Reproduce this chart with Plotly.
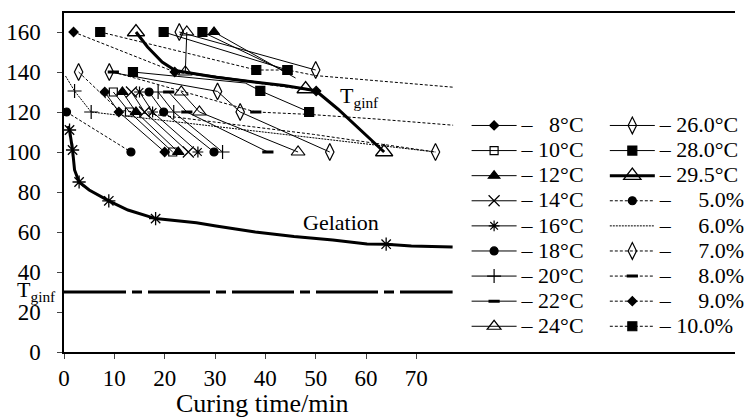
import plotly.graph_objects as go

# ---------------- data ----------------
t_rows = [130, 120, 100]
t8_x = [8.1, 10.9, 20.0]
t10_x = [9.8, 13.0, 21.6]
t12_x = [11.6, 14.3, 22.7]
t14_x = [13.4, 16.0, 24.7]
t16_x = [15.0, 17.6, 26.6]
t18_x = [16.9, 19.8, 29.8]
t20_x = [18.7, 21.8, 31.5]
t22_x = [20.8, 24.4, 40.5]
t24_x = [23.3, 26.9, 46.5]
t26_x = [9.0, 30.5, 35.0, 52.8]
t26_y = [140, 130.3, 120, 100]
t28_x = [13.7, 36.0, 39.0, 48.7]
t28_y = [140, 134.5, 130.6, 120]
t28_mark = [1, 0, 1, 1]
# upper segments (160 row)
up_a_x = [22.9, 50.0]; up_a_y = [160, 141]
up_b_x = [19.8, 44.4]; up_b_y = [160, 141]
up_c_x = [29.8, 46.0]; up_c_y = [160, 137]
up_d_x = [24.4, 24.1, 40.0]; up_d_y = [160, 140, 134.5]
up_e_x = [27.5, 45.0]; up_e_y = [160, 139]
# 29.5 degC curve (thick)
t295_x = [14.3, 16.6, 19.5, 22.1, 30.2, 36.0, 43.7, 48.0, 50.1, 54.4, 58.3, 63.6]
t295_y = [160, 152.5, 145, 140.7, 137.4, 135.7, 133.2, 131.5, 130.5, 121.5, 112.4, 100]
t295_mark = [1, 0, 0, 0, 0, 0, 0, 1, 0, 0, 0, 1]
# percentage series (dashed)
p5_x = [0.5, 13.3]; p5_y = [120, 100]
p5_mark = [1, 1]
p6_x = [0.3, 2.1, 5.4, 37.9, 73.8]; p6_y = [138, 130.5, 120, 110.6, 100]
p6_mark = [0, 1, 1, 0, 0]
p7_x = [2.9, 10.8, 49.6, 73.8]; p7_y = [140, 121, 108.8, 100]
p7_mark = [1, 0, 0, 1]
p8_x = [9.8, 38.1, 48.7, 62.0, 77.3]; p8_y = [140, 120, 118.8, 116.5, 113.4]
p8_mark = [1, 1, 0, 0, 0]
p9_x = [1.9, 22.0, 50.1]; p9_y = [160, 140, 130.5]
p9_mark = [1, 1, 1]
p10_x = [7.2, 38.2, 44.4, 50.0, 77.3]; p10_y = [160, 141, 141, 138.2, 132.4]
p10_mark = [1, 1, 1, 0, 0]
# gelation curve
gel_x = [0.8, 1.1, 1.7, 2.1, 3.0, 5.0, 8.9, 12.7, 18.2, 26.3, 30.2, 38.0, 45.7, 53.4, 60.2, 64.0, 69.0, 77.2]
gel_y = [113, 111, 101, 91, 85, 81, 75.6, 71, 66.7, 64.6, 63, 60, 57.7, 56, 54, 53.9, 53, 52.5]
gel_mark = [0, 1, 1, 0, 1, 0, 1, 0, 1, 0, 0, 0, 0, 0, 0, 1, 0, 0]
# T_ginf horizontal line
tg_x = [0, 77.2]; tg_y = [30, 30]

x_ticks = [0, 10, 20, 30, 40, 50, 60, 70]
y_ticks = [0, 20, 40, 60, 80, 100, 120, 140, 160]

FONT = "Liberation Serif"
BLACK = "black"
CLEAR = "rgba(0,0,0,0)"
FS = "\u2007"

fig = go.Figure()


def lbl(prefix, text):
    return '<span style="font-size:22px">' + prefix + text + '</span>'


def add(x, y, name, symbol, size, dash="solid", width=1, legend="legend", lw=1.2,
        showlegend=True, mark=None):
    cols = BLACK if mark is None else [BLACK if m else CLEAR for m in mark]
    mk = dict(symbol=symbol, size=size, color=cols, line=dict(width=lw, color=cols))
    fig.add_trace(go.Scatter(x=x, y=y, mode="lines+markers", name=name,
                             line=dict(color=BLACK, width=width, dash=dash),
                             marker=mk, legend=legend, showlegend=showlegend))


col1 = [
    (t8_x, "8°C", "diamond", 7),
    (t10_x, "10°C", "square-open", 8),
    (t12_x, "12°C", "triangle-up", 10),
    (t14_x, "14°C", "x-thin-open", 11),
    (t16_x, "16°C", "asterisk-open", 9),
    (t18_x, "18°C", "circle", 8),
    (t20_x, "20°C", "cross-thin-open", 10),
    (t22_x, "22°C", "line-ew-open", 8),
    (t24_x, "24°C", "triangle-up-open", 12),
]
for xs, nm, sym, sz in col1:
    pre = "– " + (FS if len(nm) < 4 else "")
    lw = 3 if sym == "line-ew-open" else 1.2
    add(xs, t_rows, lbl(pre, nm), sym, sz, lw=lw)

add(t26_x, t26_y, lbl("– ", "26.0°C"), "diamond-tall-open", 12, legend="legend2")
add(t28_x, t28_y, lbl("– ", "28.0°C"), "square", 9, legend="legend2", mark=t28_mark)
add(t295_x, t295_y, lbl("– ", "29.5°C"), "triangle-up-open", 15, width=3, legend="legend2",
    mark=t295_mark, lw=1.3)

pct = [
    (p5_x, p5_y, p5_mark, "5.0%", "circle", 8, "3px,2px", 1.2),
    (p6_x, p6_y, p6_mark, "6.0%", "cross-thin-open", 10, "2px,1px", 1.2),
    (p7_x, p7_y, p7_mark, "7.0%", "diamond-tall-open", 12, "3px,2px", 1.2),
    (p8_x, p8_y, p8_mark, "8.0%", "line-ew-open", 8, "3px,2px", 3),
    (p9_x, p9_y, p9_mark, "9.0%", "diamond", 7, "3px,2px", 1.2),
    (p10_x, p10_y, p10_mark, "10.0%", "square", 9, "3px,2px", 1.2),
]
for xs, ys, mk, nm, sym, sz, dsh, lw in pct:
    pre = "– " + (FS + FS if len(nm) < 5 else "")
    add(xs, ys, lbl(pre, nm), sym, sz, dash=dsh, legend="legend2", lw=lw, mark=mk)

# upper unlabeled segments
add(up_a_x, up_a_y, "", "diamond-tall-open", 12, showlegend=False)
add(up_b_x, up_b_y, "", "square", 9, showlegend=False)
add(up_c_x, up_c_y, "", "triangle-up", 10, showlegend=False, mark=[1, 0])
add(up_d_x, up_d_y, "", "triangle-up-open", 12, showlegend=False, mark=[1, 1, 0])
add(up_e_x, up_e_y, "", "square", 9, showlegend=False, mark=[1, 0])

add(gel_x, gel_y, "", "asterisk-open", 11, width=3, showlegend=False, mark=gel_mark, lw=1.3)

fig.add_trace(go.Scatter(x=tg_x, y=tg_y, mode="lines", showlegend=False,
                         line=dict(color=BLACK, width=3, dash="62px,6px,10px,6px")))

afont = dict(family=FONT, size=22, color=BLACK)
fig.add_annotation(x=-0.009, y=30.5, xref="paper", yref="y", text="T<sub>ginf</sub>", showarrow=False,
                   xanchor="right", yanchor="middle", font=afont)
fig.add_annotation(x=58.8, y=127.5, xref="x", yref="y", text="T<sub>ginf</sub>", showarrow=False,
                   xanchor="center", yanchor="middle", font=afont)
fig.add_annotation(x=55.0, y=65, xref="x", yref="y", text="Gelation", showarrow=False,
                   xanchor="center", yanchor="middle", font=afont)
fig.add_annotation(x=39.5, y=-0.153, xref="x", yref="paper", text="Curing time/min", showarrow=False,
                   xanchor="center", yanchor="middle", font=dict(family=FONT, size=26, color=BLACK))

tfont = dict(family=FONT, size=23, color=BLACK)
fig.update_layout(
    width=751, height=417,
    margin=dict(l=64, r=0, t=13, b=65),
    paper_bgcolor="white", plot_bgcolor="white",
    font=dict(family=FONT, size=22, color=BLACK),
    xaxis=dict(range=[0, 133.3], tickvals=x_ticks, ticks="outside", ticklen=5, showgrid=False,
               zeroline=False, showline=True, linecolor=BLACK, linewidth=1.5, mirror=True,
               tickfont=tfont),
    yaxis=dict(range=[0, 169.5], tickvals=y_ticks, ticks="outside", ticklen=5, showgrid=False,
               zeroline=False, showline=True, linecolor=BLACK, linewidth=1.5,
               tickfont=tfont, ticklabelstandoff=12),
    legend=dict(x=0.6, y=0.72, xanchor="left", yanchor="top", font=dict(family=FONT, size=17),
                bgcolor=CLEAR, itemwidth=45, tracegroupgap=0),
    legend2=dict(x=0.806, y=0.72, xanchor="left", yanchor="top", font=dict(family=FONT, size=17),
                 bgcolor=CLEAR, itemwidth=45, tracegroupgap=0),
)

fig.write_html("out.html")
